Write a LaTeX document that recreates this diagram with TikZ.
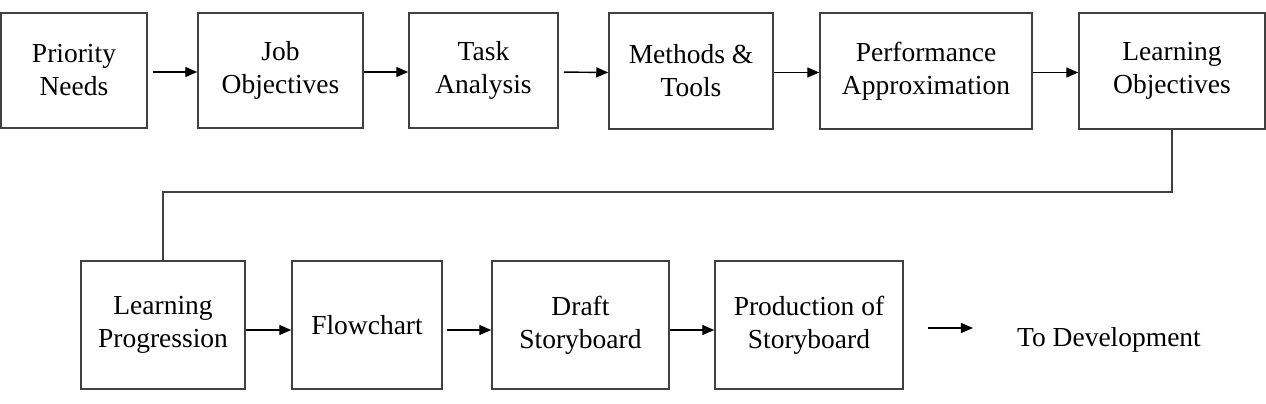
\documentclass[tikz,border=0pt]{standalone}
\usepackage{fontspec}
\setmainfont{Liberation Serif}
\usepackage{tikz}
\usetikzlibrary{positioning,calc,arrows.meta}

\begin{document}
\begin{tikzpicture}[x=1pt,y=1pt,>={Triangle[length=12pt,width=10pt]},
  font=\fontsize{27.5}{33}\selectfont,
  stage/.style={draw=black!75,line width=1.5pt,align=center,inner sep=0pt},
  flow/.style={->,line width=1.4pt,black}]
\useasboundingbox (0,0) rectangle (1266,-404);

% ---- top row
\node[stage,minimum width=146pt,minimum height=115pt] (prio) at (74,-70.5) {Priority\\Needs};
\node[stage,minimum width=165pt,minimum height=115pt] (job) at (280.5,-70.5) {Job\\Objectives};
\node[stage,minimum width=149pt,minimum height=115pt] (task) at (483.5,-70.5) {Task\\Analysis};
\node[stage,minimum width=164pt,minimum height=116pt] (meth) at (691,-71) {Methods \&\\Tools};
\node[stage,minimum width=212pt,minimum height=116pt] (perf) at (926,-71) {Performance\\Approximation};
\node[stage,minimum width=186pt,minimum height=116pt] (lobj) at (1172,-71) {Learning\\Objectives};
\draw[flow,shorten <=5pt] ([yshift=-1.5pt]prio.east) -- ([yshift=-1.5pt]job.west);
\draw[flow] ([yshift=-1.5pt]job.east) -- ([yshift=-1.5pt]task.west);
\draw[flow,shorten <=5pt] ([yshift=-1.5pt]task.east) -- ([yshift=-1.5pt]meth.west);
\draw[flow] ([yshift=-1.5pt]meth.east) -- ([yshift=-1.5pt]perf.west);
\draw[flow] ([yshift=-1.5pt]perf.east) -- ([yshift=-1.5pt]lobj.west);

% ---- bottom row
\node[stage,minimum width=164pt,minimum height=128pt] (prog) at (163,-325) {Learning\\Progression};
\node[stage,minimum width=150pt,minimum height=128pt] (chart) at (367,-325) {Flowchart};
\node[stage,minimum width=177pt,minimum height=128pt] (draft) at (580.5,-325) {Draft\\Storyboard};
\node[stage,minimum width=188pt,minimum height=128pt] (prod) at (809,-325) {Production of\\Storyboard};
\node[inner sep=0pt] (dev) at (1109,-340) {To Development};
\draw[black!75,line width=1.5pt] (lobj.south) -- ++(0,-62) -| (prog.north);
\draw[flow] ([yshift=-5pt]prog.east) -- ([yshift=-5pt]chart.west);
\draw[flow,shorten <=4pt] ([yshift=-5pt]chart.east) -- ([yshift=-5pt]draft.west);
\draw[flow] ([yshift=-5pt]draft.east) -- ([yshift=-5pt]prod.west);
\draw[flow] ([xshift=24pt,yshift=-3pt]prod.east) -- ([xshift=-44pt,yshift=12pt]dev.west);
\end{tikzpicture}
\end{document}
